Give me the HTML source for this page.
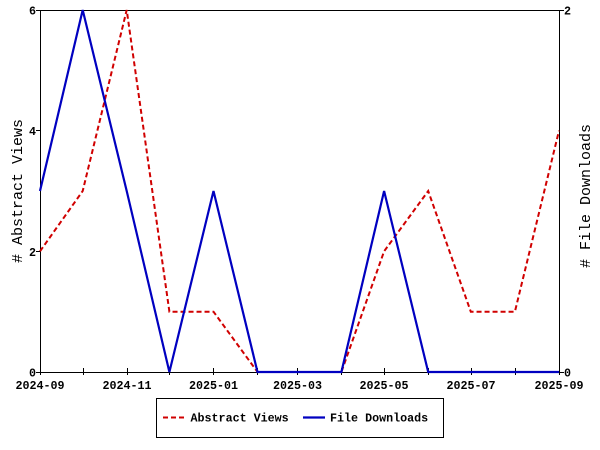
<!DOCTYPE html>
<html><head><meta charset="utf-8"><style>
html,body{margin:0;padding:0;background:#fff;}
svg{display:block;}
text{font-family:"Liberation Mono","DejaVu Sans Mono",monospace;fill:#000;}
.t{font-size:11.7px;font-weight:bold;}
.l{font-size:15px;}
</style></head><body>
<svg width="600" height="450" viewBox="0 0 600 450" xmlns="http://www.w3.org/2000/svg">
<rect width="600" height="450" fill="#fff"/>
<g stroke="#000" stroke-width="1" shape-rendering="crispEdges" fill="none">
<line x1="40.5" y1="10.5" x2="559.5" y2="10.5"/>
<line x1="40.5" y1="10" x2="40.5" y2="375"/>
<line x1="559.5" y1="10" x2="559.5" y2="375"/>
<line x1="40" y1="372.5" x2="560" y2="372.5"/>
<!-- left y ticks -->
<line x1="36" y1="10.5" x2="40" y2="10.5"/>
<line x1="36" y1="130.5" x2="40" y2="130.5"/>
<line x1="36" y1="251.5" x2="40" y2="251.5"/>
<line x1="36" y1="372.5" x2="40" y2="372.5"/>
<!-- right y ticks -->
<line x1="559" y1="10.5" x2="564" y2="10.5"/>
<line x1="559" y1="372.5" x2="564" y2="372.5"/>
<!-- x ticks -->
<line x1="83.5" y1="368" x2="83.5" y2="375"/>
<line x1="127.5" y1="368" x2="127.5" y2="375"/>
<line x1="169.5" y1="368" x2="169.5" y2="375"/>
<line x1="213.5" y1="368" x2="213.5" y2="375"/>
<line x1="257.5" y1="368" x2="257.5" y2="375"/>
<line x1="297.5" y1="368" x2="297.5" y2="375"/>
<line x1="341.5" y1="368" x2="341.5" y2="375"/>
<line x1="384.5" y1="368" x2="384.5" y2="375"/>
<line x1="428.5" y1="368" x2="428.5" y2="375"/>
<line x1="471.5" y1="368" x2="471.5" y2="375"/>
<line x1="515.5" y1="368" x2="515.5" y2="375"/>
</g>
<!-- y tick labels -->
<g class="t" text-anchor="end">
<text x="36" y="14.5" class="t">6</text>
<text x="36" y="135" class="t">4</text>
<text x="36" y="256" class="t">2</text>
<text x="36" y="376.5" class="t">0</text>
</g>
<text x="564" y="14.5" class="t">2</text>
<text x="564" y="376.5" class="t">0</text>
<!-- x tick labels -->
<g text-anchor="middle">
<text x="40" y="389" class="t">2024-09</text>
<text x="127" y="389" class="t">2024-11</text>
<text x="213.5" y="389" class="t">2025-01</text>
<text x="297.5" y="389" class="t">2025-03</text>
<text x="384" y="389" class="t">2025-05</text>
<text x="471" y="389" class="t">2025-07</text>
<text x="559" y="389" class="t">2025-09</text>
</g>
<!-- axis titles -->
<text class="l" text-anchor="middle" transform="translate(22,191) rotate(-90)">#&#160;Abstract&#160;Views</text>
<text class="l" text-anchor="middle" transform="translate(590,196) rotate(-90)">#&#160;File&#160;Downloads</text>
<!-- series -->
<polyline fill="none" stroke="#d00000" stroke-width="2" stroke-dasharray="5,3"
 points="40,251.3 82.7,191 126.7,10 169.4,311.7 213.5,311.7 257.5,372 297.4,372 341.4,372 384.1,251.3 428.2,191 470.8,311.7 514.9,311.7 559,130.7"/>
<polyline fill="none" stroke="#0000c0" stroke-width="2.2"
 points="40,191 82.7,10 126.7,191 169.4,372 213.5,191 257.5,372 297.4,372 341.4,372 384.1,191 428.2,372 470.8,372 514.9,372 559,372"/>
<!-- legend -->
<rect x="156.5" y="398.5" width="287" height="39" fill="#fff" stroke="#000" stroke-width="1" shape-rendering="crispEdges"/>
<line x1="163" y1="417.5" x2="184" y2="417.5" stroke="#d00000" stroke-width="2" stroke-dasharray="5,3"/>
<text x="190.5" y="421.5" class="t">Abstract Views</text>
<line x1="303" y1="417.5" x2="325" y2="417.5" stroke="#0000c0" stroke-width="2.2"/>
<text x="330" y="421.5" class="t">File Downloads</text>
</svg>
</body></html>
